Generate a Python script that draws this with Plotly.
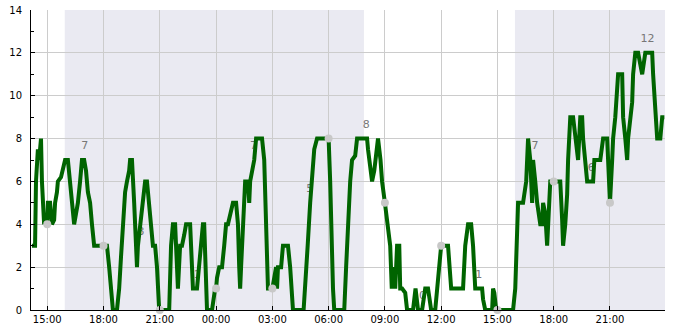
import pandas as pd
import plotly.graph_objects as go

# minutes since 14:00 on day 1, and measured value
minutes = [11, 21, 24, 27, 30, 34, 37, 40, 43, 46, 50, 53, 56, 60, 62, 69, 72, 75, 82, 85,
           91, 94, 104, 110, 117, 126, 133, 139, 146, 152, 158, 165, 171, 178, 184, 190, 197,
           203, 210, 219, 235, 240, 251, 258, 264, 270, 283, 290, 296, 302, 309, 315, 322, 325,
           331, 338, 344, 347, 350, 354, 360, 366, 373, 379, 386, 392, 398, 405, 411, 418, 420,
           450, 453, 456, 462, 469, 475, 478, 485, 491, 498, 504, 517, 523, 526, 539, 546, 552,
           558, 562, 568, 571, 587, 594, 597, 600, 603, 610, 619, 626, 632, 638, 645, 654, 664,
           670, 674, 677, 680, 683, 686, 693, 702, 706, 709, 715, 722, 728, 747, 754, 757, 763,
           766, 780, 786, 792, 795, 798, 802, 808, 814, 830, 837, 843, 846, 880, 887, 893, 901,
           910, 914, 923, 955, 960, 965, 968, 971, 974, 978, 1010, 1016, 1022, 1029, 1035, 1045,
           1051, 1083, 1086, 1090, 1096, 1099, 1106, 1112, 1118, 1126, 1131, 1140, 1150, 1157,
           1162, 1166, 1173, 1179, 1186, 1189, 1195, 1205, 1211, 1230, 1238, 1246, 1259, 1269,
           1278, 1288, 1301, 1307, 1317, 1320, 1342, 1352, 1365, 1390, 1397, 1406, 1416, 1422,
           1429, 1451, 1454, 1461, 1483, 1486, 1490, 1496, 1500, 1550, 1557, 1563, 1566, 1582,
           1592, 1598, 1605, 1611, 1614, 1621, 1627, 1637, 1643, 1646, 1653, 1659, 1662, 1669,
           1680, 1685, 1701, 1707, 1710, 1717, 1723, 1726, 1733, 1742, 1749, 1758, 1765, 1771,
           1774, 1781, 1787, 1806, 1810, 1829, 1838, 1851, 1854, 1860, 1867, 1870, 1877, 1883,
           1886, 1899, 1902, 1909, 1915, 1918, 1925, 1931, 1934, 1941, 1950, 1957, 1963, 1973,
           1995, 1998, 2005, 2011, 2021, 2027, 2034]
values = [3, 3, 6, 6.5, 7.5, 7, 8, 8, 6, 4.5, 4, 4.5, 4.2, 4, 5, 5, 4.5, 4, 4.2, 5,
          5.5, 6, 6.2, 6.5, 7, 7, 6, 5, 4, 4.5, 5, 6, 7, 7, 6.5, 5.5, 5,
          4, 3, 3, 3, 3, 3, 2, 1, 0, 0, 1, 2.5, 4, 5.5, 6, 6.5, 7,
          7, 5, 3, 2, 3, 3.5, 4, 5, 6, 6, 5, 4, 3, 3, 2, 0, 0,
          0, 1.5, 3, 4, 4, 2, 1, 3, 3, 3.5, 4, 4, 2.5, 1, 1, 2, 3,
          4, 4, 2, 0, 0, 1, 1, 1, 1.5, 2, 2, 3, 4, 4, 4.5, 5, 5,
          4, 2, 1, 2, 3, 4, 6, 6, 5, 6, 6.5, 7, 8, 8, 7, 5, 2,
          1, 1, 1.5, 2, 1, 2, 2, 2, 3, 3, 2, 0.5, 0, 0, 2, 3, 5,
          7, 7.5, 8, 8, 8, 6, 4, 2, 1, 0, 0, 2, 4, 6, 7, 7.2,
          8, 8, 7.5, 7, 6.5, 6, 6.5, 7.5, 8, 7, 6, 5, 3.6, 3,
          1, 2, 1, 3, 3, 1, 1, 0.8, 0, 0, 1, 0, 0, 1,
          1, 0, 0, 1, 3, 3, 3, 1, 1, 1, 3, 4, 4, 3,
          1, 1, 0.5, 0, 0, 1, 0.8, 0, 0, 0, 1, 3, 5, 5,
          6, 8, 7, 5, 7, 6, 5, 4, 4, 5, 4.5, 3, 4, 6,
          6, 6, 6, 4.2, 3, 4, 5.4, 7, 9, 9, 8, 7, 9, 9,
          8, 7, 6, 6, 7, 7, 8, 8, 7, 5, 7, 8, 9, 10,
          11, 11, 9, 8, 7, 8, 9, 9.7, 11, 12, 12, 11.5, 11, 12,
          12, 11, 9, 8, 8, 9, 9]

# grey dots every 3 hours
dot_times = ["2024-01-10 15:00", "2024-01-10 18:00", "2024-01-10 21:00", "2024-01-11 00:00",
             "2024-01-11 03:00", "2024-01-11 06:00", "2024-01-11 09:00", "2024-01-11 12:00",
             "2024-01-11 15:00", "2024-01-11 18:00", "2024-01-11 21:00"]
dot_values = [4, 3, 0, 1, 1, 8, 5, 3, 0, 6, 5]

# grey value labels
label_times = ["2024-01-10 17:00", "2024-01-10 20:00", "2024-01-10 23:00", "2024-01-11 02:00",
               "2024-01-11 05:00", "2024-01-11 08:00", "2024-01-11 11:00", "2024-01-11 14:00",
               "2024-01-11 17:00", "2024-01-11 20:00", "2024-01-11 23:00"]
label_values = [7, 3, 1, 7, 5, 8, 0, 1, 7, 6, 12]

# night shading
night_starts = ["2024-01-10 15:56", "2024-01-11 15:56"]
night_ends = ["2024-01-11 07:53", "2024-01-12 00:30"]

base = pd.Timestamp("2024-01-10 14:00")
times = base + pd.to_timedelta(minutes, unit="min")

LABEL_LIFT = 0.37  # labels sit a little above their value

fig = go.Figure()

fig.add_trace(go.Scatter(
    x=label_times, y=[v + LABEL_LIFT for v in label_values], mode="text",
    text=[str(v) for v in label_values], textposition="top center",
    textfont=dict(family="DejaVu Sans", size=11, color="#777777"),
    hoverinfo="skip", showlegend=False, cliponaxis=False))

fig.add_trace(go.Scatter(
    x=times, y=values, mode="lines",
    line=dict(color="#006400", width=4),
    showlegend=False))

fig.add_trace(go.Scatter(
    x=dot_times, y=dot_values, mode="markers",
    marker=dict(color="#c8c8c8", size=8),
    showlegend=False, cliponaxis=False))

for s, e in zip(night_starts, night_ends):
    fig.add_vrect(x0=s, x1=e, fillcolor="#eaeaf2", line_width=0, layer="below")

fig.update_layout(
    width=685, height=330,
    margin=dict(l=31, r=20, t=10, b=20),
    plot_bgcolor="white", paper_bgcolor="white",
    font=dict(family="DejaVu Sans", size=10, color="black"),
    showlegend=False,
)
fig.update_xaxes(
    range=["2024-01-10 14:08", "2024-01-11 23:56"],
    tickformat="%H:%M", tick0="2024-01-10 15:00", dtick=3 * 3600 * 1000,
    showgrid=True, gridcolor="#cccccc", gridwidth=1,
    showline=True, linecolor="black", linewidth=1,
    ticks="inside", ticklen=4, tickcolor="black",
    zeroline=False, ticklabelstandoff=0, automargin=False,
)
fig.update_yaxes(
    range=[0, 14], dtick=2, tick0=0,
    showgrid=True, gridcolor="#cccccc", gridwidth=1,
    showline=True, linecolor="black", linewidth=1,
    ticks="inside", ticklen=4, tickcolor="black",
    minor=dict(dtick=1, ticks="inside", ticklen=3, tickcolor="black", showgrid=False),
    zeroline=False, ticklabelstandoff=6, automargin=False,
)

fig.write_html("out.html")
